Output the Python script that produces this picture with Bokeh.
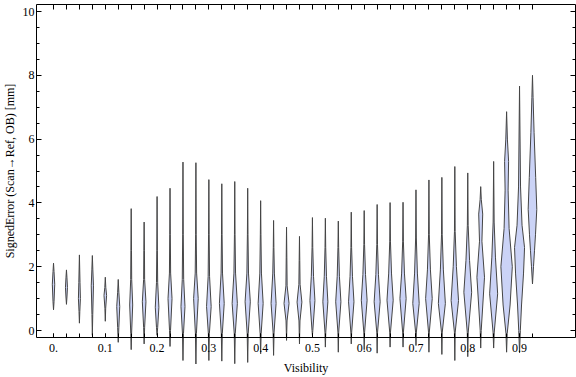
from bokeh.plotting import figure
from bokeh.models import FixedTicker, LinearAxis
from bokeh.embed import file_html
from bokeh.resources import INLINE

# ---- data ----
visibility = [0.0, 0.025, 0.05, 0.075, 0.1, 0.125, 0.15, 0.175, 0.2, 0.225,
              0.25, 0.275, 0.3, 0.325, 0.35, 0.375, 0.4, 0.425, 0.45, 0.475,
              0.5, 0.525, 0.55, 0.575, 0.6, 0.625, 0.65, 0.675, 0.7, 0.725,
              0.75, 0.775, 0.8, 0.825, 0.85, 0.875, 0.9, 0.925]

# violin profiles: (signed error [mm], relative density) from bottom tip to top tip
profiles = [
    [(0.65, 0), (0.9, 0.5), (1.45, 1.2), (1.85, 0.5), (2.11, 0)],
    [(0.82, 0), (1.05, 0.5), (1.35, 1.0), (1.65, 0.5), (1.90, 0)],
    [(0.23, 0), (0.6, 0.4), (1.0, 1.0), (1.5, 0.6), (2.37, 0)],
    [(-0.15, 0), (0.5, 0.4), (1.4, 1.1), (1.9, 0.5), (2.35, 0)],
    [(0.29, 0), (0.7, 0.4), (1.1, 1.3), (1.35, 0.5), (1.67, 0)],
    [(-0.37, 0), (0.1, 0.6), (0.75, 1.5), (1.2, 0.6), (1.60, 0)],
    [(-0.60, 0), (-0.1, 0.4), (0.8, 1.5), (1.6, 0.5), (2.5, 0.3), (3.82, 0)],
    [(-0.42, 0), (0.1, 0.5), (0.9, 1.8), (1.6, 0.5), (2.5, 0.3), (3.40, 0)],
    [(-0.15, 0), (0.1, 0.6), (0.73, 1.8), (1.5, 0.6), (2.5, 0.3), (4.20, 0)],
    [(-0.50, 0), (0.0, 0.5), (1.0, 2.0), (1.8, 0.6), (3.0, 0.3), (4.46, 0)],
    [(-0.94, 0), (-0.1, 0.5), (0.75, 2.0), (1.6, 0.7), (3.0, 0.3), (5.28, 0)],
    [(-1.05, 0), (-0.1, 0.5), (1.0, 2.3), (1.8, 0.7), (3.0, 0.3), (5.26, 0)],
    [(-0.94, 0), (-0.1, 0.5), (0.75, 2.3), (1.7, 0.7), (3.0, 0.3), (4.73, 0)],
    [(-0.96, 0), (-0.1, 0.5), (0.85, 2.4), (1.8, 0.7), (3.0, 0.3), (4.60, 0)],
    [(-1.04, 0), (-0.1, 0.5), (0.85, 2.6), (1.8, 0.8), (3.0, 0.3), (4.67, 0)],
    [(-1.00, 0), (-0.1, 0.5), (0.9, 2.6), (1.8, 0.8), (3.0, 0.3), (4.46, 0)],
    [(-0.73, 0), (-0.1, 0.5), (0.85, 2.5), (1.8, 0.8), (3.0, 0.3), (4.07, 0)],
    [(-0.78, 0), (-0.05, 0.5), (0.85, 2.5), (1.8, 0.8), (2.6, 0.3), (3.45, 0)],
    [(-0.31, 0), (0.3, 0.5), (0.85, 2.5), (1.4, 0.6), (2.3, 0.3), (3.24, 0)],
    [(-0.42, 0), (0.3, 0.5), (0.89, 2.4), (1.45, 0.6), (2.2, 0.3), (2.95, 0)],
    [(-0.15, 0), (0.0, 0.4), (0.94, 2.5), (1.7, 1.1), (2.6, 0.35), (3.54, 0)],
    [(-0.52, 0), (-0.05, 0.4), (0.9, 2.5), (1.7, 1.1), (2.6, 0.35), (3.52, 0)],
    [(-0.68, 0), (-0.05, 0.4), (0.9, 2.6), (1.7, 1.1), (2.6, 0.35), (3.43, 0)],
    [(-0.42, 0), (-0.05, 0.4), (0.9, 2.7), (1.7, 1.2), (2.6, 0.35), (3.71, 0)],
    [(-0.60, 0), (-0.05, 0.4), (0.95, 2.9), (1.75, 1.3), (2.7, 0.35), (3.76, 0)],
    [(-0.71, 0), (-0.05, 0.4), (0.9, 3.0), (1.75, 1.3), (2.7, 0.35), (3.95, 0)],
    [(-0.52, 0), (-0.05, 0.4), (0.95, 3.1), (1.8, 1.4), (2.8, 0.35), (4.01, 0)],
    [(-0.52, 0), (-0.05, 0.4), (1.0, 3.1), (1.8, 1.4), (2.8, 0.35), (4.02, 0)],
    [(-0.47, 0), (-0.05, 0.4), (0.85, 3.2), (1.8, 1.4), (2.9, 0.35), (4.41, 0)],
    [(-0.68, 0), (-0.05, 0.4), (1.0, 3.3), (1.9, 1.5), (3.0, 0.35), (4.72, 0)],
    [(-0.75, 0), (-0.05, 0.4), (0.85, 3.5), (1.9, 1.5), (3.0, 0.35), (4.80, 0)],
    [(-0.94, 0), (-0.05, 0.4), (0.94, 3.7), (2.0, 1.6), (3.1, 0.35), (5.14, 0)],
    [(-0.82, 0), (-0.05, 0.5), (1.2, 3.9), (2.2, 1.8), (3.3, 0.4), (4.94, 0)],
    [(-0.55, 0), (0.0, 0.5), (1.67, 3.8), (2.8, 1.2), (3.65, 2.0), (4.1, 0.6), (4.51, 0)],
    [(-0.55, 0), (-0.05, 0.6), (1.15, 4.0), (2.3, 1.8), (3.4, 0.5), (5.30, 0)],
    [(-0.68, 0), (-0.1, 0.6), (0.8, 3.5), (2.0, 5.7), (3.2, 2.5), (4.4, 1.5), (5.3, 2.0), (6.0, 0.8), (6.86, 0)],
    [(-0.70, 0), (0.0, 0.8), (0.8, 2.0), (1.8, 4.0), (2.6, 5.0), (3.3, 2.5), (4.5, 1.0), (7.66, 0)],
    [(1.46, 0), (2.0, 1.0), (2.5, 2.0), (3.0, 3.0), (3.8, 4.3), (4.8, 3.2), (6.2, 1.6), (7.3, 0.6), (8.00, 0)],
]

x_tick_values = [0.0, 0.1, 0.2, 0.3, 0.4, 0.5, 0.6, 0.7, 0.8, 0.9]
x_tick_labels = ["0.", "0.1", "0.2", "0.3", "0.4", "0.5", "0.6", "0.7", "0.8", "0.9"]
y_tick_values = [0, 2, 4, 6, 8, 10]
y_minor_values = [k * 0.5 for k in range(0, 21)]

# ---- style / layout ----
FONT = "Liberation Serif"
FILL = "#cbd3f6"
EDGE = "#454545"
WIDTH_SCALE = 1.0 / 517.8          # data x per unit of relative density
# plot frame box (data units) and the visible canvas window
BOX_X = (-0.0328, 1.0081)
BOX_Y = (-0.219, 10.219)
X_RANGE = (-0.1024, 1.0100)
Y_RANGE = (-1.473, 10.345)

p = figure(width=576, height=377, x_range=X_RANGE, y_range=Y_RANGE,
           output_backend="svg", toolbar_location=None, min_border=0)
p.outline_line_color = None
p.grid.visible = False
p.background_fill_color = "white"
p.border_fill_color = "white"

yl = p.yaxis[0]
xb = p.xaxis[0]

# violins
xs, ys = [], []
for pos, prof in zip(visibility, profiles):
    right_x = [pos + d * WIDTH_SCALE for (_, d) in prof]
    right_y = [y for (y, _) in prof]
    left_x = [pos - d * WIDTH_SCALE for (_, d) in reversed(prof)]
    left_y = [y for (y, _) in reversed(prof)]
    xs.append(right_x + left_x)
    ys.append(right_y + left_y)
p.patches(xs, ys, fill_color=FILL, line_color=EDGE, line_width=1.0)


def frame_side(ax, loc, bounds, major_in, minor_in):
    ax.fixed_location = loc
    ax.bounds = bounds
    ax.major_tick_in = major_in
    ax.major_tick_out = 0
    ax.minor_tick_in = minor_in
    ax.minor_tick_out = 0
    ax.axis_line_color = "black"
    ax.major_tick_line_color = "black"
    ax.minor_tick_line_color = "black"


# left side
yl.ticker = FixedTicker(ticks=y_tick_values, minor_ticks=y_minor_values)
frame_side(yl, BOX_X[0], BOX_Y, 5, 3)
yl.major_label_text_font = FONT
yl.major_label_text_font_size = "12px"
yl.major_label_text_color = "black"
yl.major_label_standoff = 2
yl.axis_label = "SignedError (Scan\u2192Ref, OB) [mm]"
yl.axis_label_text_font = FONT
yl.axis_label_text_font_size = "12px"
yl.axis_label_text_font_style = "normal"
yl.axis_label_text_color = "black"
yl.axis_label_standoff = 3

# bottom side
xb.ticker = FixedTicker(ticks=x_tick_values, minor_ticks=visibility)
frame_side(xb, BOX_Y[0], BOX_X, 4, 4)
xb.major_label_overrides = {v: s for v, s in zip(x_tick_values, x_tick_labels)}
xb.major_label_text_font = FONT
xb.major_label_text_font_size = "12px"
xb.major_label_text_color = "black"
xb.major_label_standoff = 7
xb.axis_label = "Visibility"
xb.axis_label_text_font = FONT
xb.axis_label_text_font_size = "12px"
xb.axis_label_text_font_style = "normal"
xb.axis_label_text_color = "black"
xb.axis_label_standoff = 5

# right side (ticks only)
yr = LinearAxis(ticker=FixedTicker(ticks=y_tick_values, minor_ticks=y_minor_values))
frame_side(yr, BOX_X[1], BOX_Y, 5, 3)
yr.major_label_text_color = None
yr.major_label_standoff = 0
p.add_layout(yr, "right")

# top side (ticks only)
xt = LinearAxis(ticker=FixedTicker(ticks=visibility, minor_ticks=[]))
frame_side(xt, BOX_Y[1], BOX_X, 5, 0)
xt.major_label_text_color = None
xt.major_label_standoff = 0
p.add_layout(xt, "above")

open("out.html", "w").write(file_html(p, INLINE))
